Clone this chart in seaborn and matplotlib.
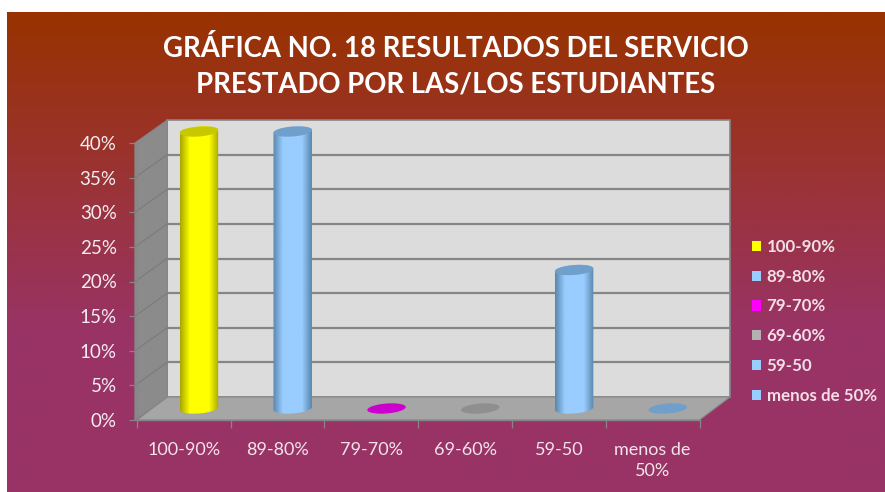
import numpy as np
import pandas as pd
import matplotlib
matplotlib.use("Agg")
import matplotlib.pyplot as plt
from matplotlib.colors import LinearSegmentedColormap
from matplotlib.patches import Polygon
import seaborn as sns

# values
categorias = ['100-90%', '89-80%', '79-70%', '69-60%', '59-50', 'menos de\n50%']
leyenda = ['100-90%', '89-80%', '79-70%', '69-60%', '59-50', 'menos de 50%']
porcentajes = [40, 40, 0, 0, 20, 0]
colores = ['#ffff00', '#99ccff', '#ff00ff', '#b2b2b2', '#99ccff', '#99ccff']
bordes = ['#a8a800', '#5a87ad', '#a800a8', '#7a7a7a', '#5a87ad', '#5a87ad']
tapas = ['#c8c800', '#6f9fca', '#cc00cc', '#8f8f8f', '#6f9fca', '#6f9fca']
marcas_y = [0, 5, 10, 15, 20, 25, 30, 35, 40]
titulo = 'GRÁFICA NO. 18 RESULTADOS DEL SERVICIO\nPRESTADO POR LAS/LOS ESTUDIANTES'

sns.set_style("white")
plt.rcParams['font.family'] = ['Lato', 'DejaVu Sans']

W, H = 885, 492
fig = plt.figure(figsize=(W / 100, H / 100), dpi=100, facecolor='white')

# background gradient
bg = fig.add_axes([0, 0, 1, 1], zorder=0)
bg.set_xlim(0, W)
bg.set_ylim(H, 0)
bg.axis('off')
cmap_bg = LinearSegmentedColormap.from_list('bg', ['#983200', '#9b3333', '#993366', '#993366'])
grad = np.linspace(0, 1, 256).reshape(-1, 1)
bg.imshow(grad, cmap=cmap_bg, extent=[7, W, H, 12], aspect='auto')
bg.set_xlim(0, W)
bg.set_ylim(H, 0)

# axes = front plane of the 3d box
L, R, B, T = 136.8, 699.5, 420, 143
ax = fig.add_axes([L / W, (H - B) / H, (R - L) / W, (B - T) / H], zorder=1)
ax.patch.set_alpha(0)

df = pd.DataFrame({'Rango': leyenda, 'Valor': porcentajes})
sns.barplot(data=df, x='Rango', y='Valor', hue='Rango', palette=colores,
            order=leyenda, hue_order=leyenda, width=0.41, dodge=False,
            saturation=1, legend=True, ax=ax, zorder=4)
for cont in ax.containers:
    cont[0].set_edgecolor('none')
ley = ax.legend(loc='upper left', bbox_to_anchor=(751.5 / W, (H - 239) / H),
                bbox_transform=fig.transFigure, frameon=False, fontsize=12.2,
                handlelength=0.54, handleheight=0.54, handletextpad=0.35,
                labelspacing=0.81, labelcolor='#f2dfe6', borderpad=0, borderaxespad=0)
for t in ley.get_texts():
    t.set_fontweight('bold')
for h in ley.legend_handles:
    h.set_edgecolor('none')

ax.set_xlim(-0.5, 5.5)
ax.set_ylim(0, 40)
ax.set_xlabel('')
ax.set_ylabel('')

# depth of the box, in data units
dx = 30.5 / ((R - L) / 6)
dy = 23 / ((B - T) / 40)
x0, x1 = -0.5, 5.5
x_pared = x0 - 0.02

ax.add_patch(Polygon([(x0 + dx, 0 + dy), (x1 + dx, dy), (x1 + dx, 40 + dy), (x0 + dx, 40 + dy)],
                     fc='#dcdcdc', ec='#868686', lw=1.2, clip_on=False, zorder=1))
ax.add_patch(Polygon([(x_pared, 0), (x0 + dx, dy), (x0 + dx, 40 + dy), (x_pared, 40)],
                     fc='#8b8b8b', ec='#868686', lw=0.8, clip_on=False, zorder=1))
ax.add_patch(Polygon([(x0, 0), (x1, 0), (x1 + dx, dy), (x0 + dx, dy)],
                     fc='#a6a6a6', ec='#868686', lw=0.8, clip_on=False, zorder=2))
for v in marcas_y:
    if 0 < v < 40:
        ax.plot([x0 + dx, x1 + dx], [v + dy, v + dy], color='#868686', lw=1.6, clip_on=False, zorder=2)
        ax.plot([x_pared, x0 + dx], [v, v + dy], color='#7c7c7c', lw=0.9, clip_on=False, zorder=2)

# cylinders over the bars, bars sit half way into the box
t = np.linspace(0, 2 * np.pi, 80)
alto = 0.72
incl = 1.0


def elipse(cx, cy, w, arco):
    xs = cx + w / 2 * np.cos(arco)
    ys = cy + alto * np.sin(arco) + incl * (xs - cx)
    return np.column_stack([xs, ys])


for i, (cont, val) in enumerate(zip(ax.containers, porcentajes)):
    barra = cont[0]
    w = barra.get_width()
    cx = barra.get_x() + w / 2 + dx / 2
    cy0 = dy / 2
    cy1 = val + dy / 2
    barra.set_visible(False)
    if val > 0:
        abajo = elipse(cx, cy0, w, np.linspace(np.pi, 2 * np.pi, 40))
        arriba = elipse(cx, cy1, w, np.linspace(0, np.pi, 40))
        cuerpo = Polygon(np.vstack([abajo, arriba]), fc='none', ec='none',
                         transform=ax.transData, clip_on=False)
        ax.add_patch(cuerpo)
        cm = LinearSegmentedColormap.from_list('c', [bordes[i], colores[i], colores[i], colores[i], bordes[i]])
        im = ax.imshow(np.linspace(0, 1, 64).reshape(1, -1), cmap=cm, aspect='auto', zorder=5,
                       extent=[cx - w / 2, cx + w / 2, cy0 - 1.5, cy1 + 1.5])
        # imshow clips to the axes box, the top of the cylinder goes past it
        im.set_clip_path(cuerpo)
        im.set_clip_box(fig.bbox)
    ax.add_patch(Polygon(elipse(cx, cy1, w, t), fc=tapas[i], ec='none', clip_on=False, zorder=6))

ax.set_xlim(-0.5, 5.5)
ax.set_ylim(0, 40)
ax.set_aspect('auto')

# axes, ticks
for s in ['top', 'right']:
    ax.spines[s].set_visible(False)
for s in ['left', 'bottom']:
    ax.spines[s].set_color('#868686')
    ax.spines[s].set_linewidth(1.0)
    ax.spines[s].set_zorder(3)
ax.set_xticks(range(6))
ax.set_xticklabels(categorias, linespacing=1.35)
ax.set_xticks(np.arange(-0.5, 6), minor=True)
ax.set_yticks(marcas_y)
ax.set_yticklabels([f'{v}%' for v in marcas_y])
ax.tick_params(axis='x', which='major', length=0, pad=16, labelsize=13, labelcolor='#f2e4ea')
ax.tick_params(axis='x', which='minor', length=5.5, width=0.9, color='#868686', bottom=True)
ax.tick_params(axis='y', which='major', length=5.5, width=0.9, color='#868686', left=True,
               pad=9, labelsize=13.5, labelcolor='#f5ecf0')

fig.text(455.5 / W, 1 - 48.5 / H, titulo.split('\n')[0], ha='center', va='center', color='white',
         fontsize=19.85, fontweight='bold')
fig.text(456 / W, 1 - 84.5 / H, titulo.split('\n')[1], ha='center', va='center', color='white',
         fontsize=19.8, fontweight='bold')

fig.savefig('out.png', dpi=100, facecolor=fig.get_facecolor())
